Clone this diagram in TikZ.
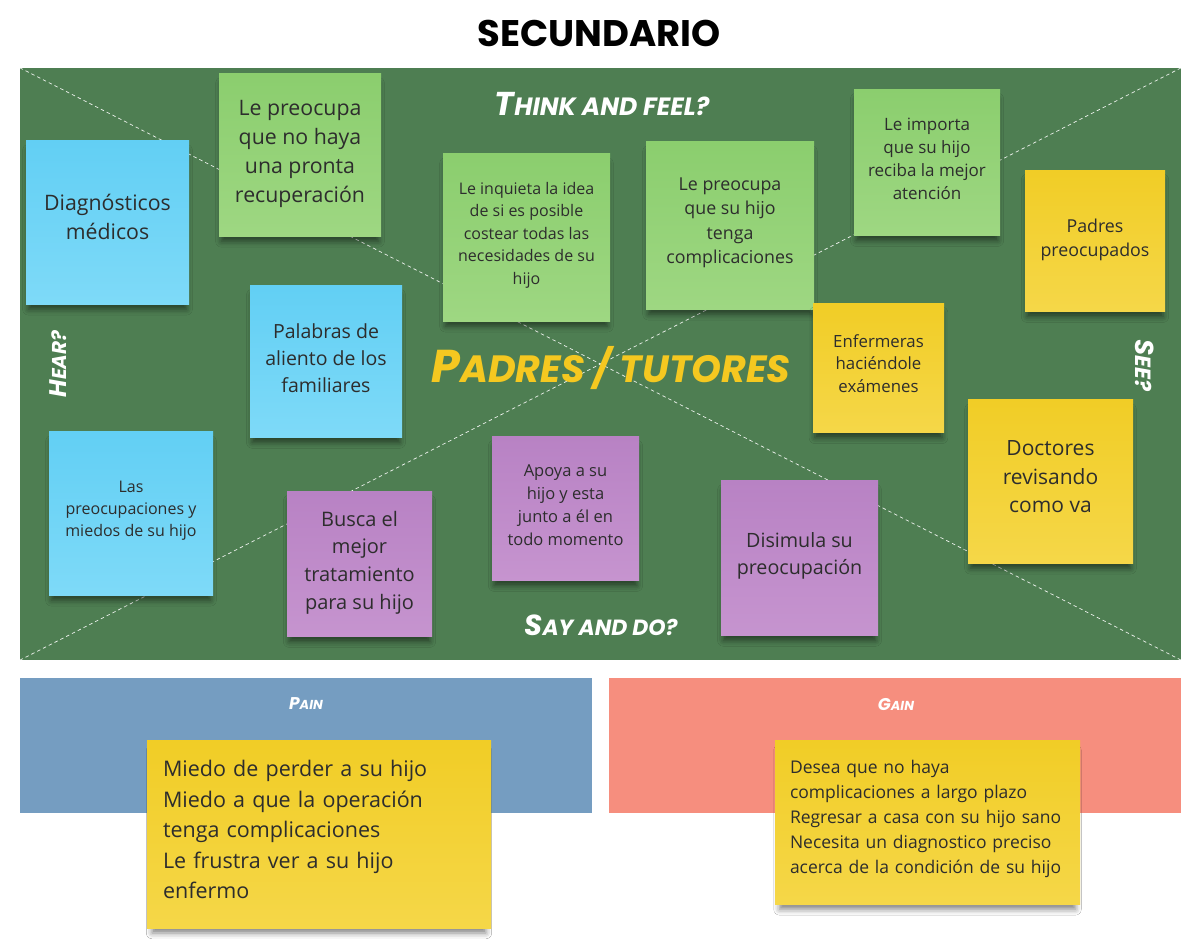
\documentclass[tikz,border=0pt]{standalone}
\usepackage{fontspec}
\setmainfont{Open Sans}
\newfontfamily\headfont{Poppins}
\newfontfamily\titlefont{Poppins}
\usetikzlibrary{shadows.blur}

\definecolor{board}{RGB}{78,126,82}
\definecolor{ink}{RGB}{45,45,45}
\definecolor{greenA}{RGB}{139,206,110}
\definecolor{greenB}{RGB}{158,215,130}
\definecolor{blueA}{RGB}{98,207,244}
\definecolor{blueB}{RGB}{126,218,248}
\definecolor{yellowA}{RGB}{241,205,38}
\definecolor{yellowB}{RGB}{245,215,72}
\definecolor{purpleA}{RGB}{184,130,196}
\definecolor{purpleB}{RGB}{198,148,207}
\definecolor{painbox}{RGB}{117,157,193}
\definecolor{gainbox}{RGB}{246,142,126}
\definecolor{persona}{RGB}{245,200,32}

% fake small caps for the hand-lettered headings
\newcommand{\hcaps}[4]{{\fontsize{#1}{#1}\selectfont #3}{\fontsize{#2}{#2}\selectfont\MakeUppercase{#4}}}

\tikzset{
  note/.style={inner sep=0pt,
    blur shadow={shadow xshift=0pt, shadow yshift=-8pt, shadow scale=0.97,
      shadow blur radius=6pt, shadow opacity=50}},
  gnote/.style={note, top color=greenA, bottom color=greenB},
  bnote/.style={note, top color=blueA, bottom color=blueB},
  ynote/.style={note, top color=yellowA, bottom color=yellowB},
  pnote/.style={note, top color=purpleA, bottom color=purpleB},
  ntext/.style={align=center, text=ink, inner sep=0pt},
  up/.style={yshift=#1},
  head/.style={text=white, font=\headfont\bfseries\itshape, inner sep=0pt},
  fs/.style 2 args={font=\fontsize{#1}{#2}\selectfont},
  divider/.style={draw=white, dash pattern=on 3.5pt off 3pt, line width=0.7pt, opacity=0.9},
}

\begin{document}
\begin{tikzpicture}[x=1pt, y=-1pt]
\useasboundingbox[fill=white] (0,0) rectangle (1204,951);

% title
\node[font=\titlefont\bfseries\fontsize{37}{37}\selectfont, text=black] (title) at (599,33) {SECUNDARIO};

% empathy board
\node[fill=board, minimum width=1161pt, minimum height=592pt, inner sep=0pt] (board) at (600.5,364) {};
\draw[divider] (board.north west) -- (board.south east);
\draw[divider] (board.south west) -- (board.north east);

% quadrant headings
\node[head] (think) at (602,104) {\hcaps{33}{25}{T}{hink and feel?}};
\node[head] (say) at (601,625) {\hcaps{29}{22}{S}{ay and do?}};
\node[head, rotate=90] (hear) at (58,364) {\hcaps{24}{20}{H}{ear?}};
\node[head, rotate=-90] (see) at (1145,365) {\hcaps{26}{22}{S}{ee?}};

% think and feel
\node[gnote, minimum width=162pt, minimum height=163pt,
  label={[ntext, fs={21.3}{29}, up=1pt]center:{Le preocupa\\que no haya\\una pronta\\recuperación}}] (n1) at (300,154.5) {};
\node[gnote, minimum width=167pt, minimum height=168pt,
  label={[ntext, fs={16}{22.5}, up=2pt]center:{Le inquieta la idea\\de si es posible\\costear todas las\\necesidades de su\\hijo}}] (n3) at (526.5,237) {};
\node[gnote, minimum width=168pt, minimum height=168pt,
  label={[ntext, fs={17.8}{24.5}, up=2pt]center:{Le preocupa\\que su hijo\\tenga\\complicaciones}}] (n4) at (730,225) {};
\node[gnote, minimum width=146pt, minimum height=146pt,
  label={[ntext, fs={17}{23}, up=3pt]center:{Le importa\\que su hijo\\reciba la mejor\\atención}}] (n5) at (927,162) {};

% hear
\node[bnote, minimum width=163pt, minimum height=164pt,
  label={[ntext, fs={21.3}{29}, up=5pt]center:{Diagnósticos\\médicos}}] (n2) at (107.5,222) {};
\node[bnote, minimum width=152pt, minimum height=152pt,
  label={[ntext, fs={19.5}{27}, up=3pt]center:{Palabras de\\aliento de los\\familiares}}] (n7) at (326,361) {};
\node[bnote, minimum width=164pt, minimum height=164pt,
  label={[ntext, fs={16}{22}, up=2pt]center:{Las\\preocupaciones y\\miedos de su hijo}}] (n10) at (131,513) {};

% see
\node[ynote, minimum width=140pt, minimum height=141pt,
  label={[ntext, fs={17.8}{24}, up=1pt]center:{Padres\\preocupados}}] (n6) at (1095,240.5) {};
\node[ynote, minimum width=131pt, minimum height=129pt,
  label={[ntext, fs={16.8}{22.5}, up=4pt]center:{Enfermeras\\haciéndole\\exámenes}}] (n8) at (878.5,367.5) {};
\node[ynote, minimum width=165pt, minimum height=164pt,
  label={[ntext, fs={21}{28.5}, up=4pt]center:{Doctores\\revisando\\como va}}] (n9) at (1050.5,481) {};

% say and do
\node[pnote, minimum width=145pt, minimum height=145pt,
  label={[ntext, fs={20}{27.7}, up=1pt]center:{Busca el\\mejor\\tratamiento\\para su hijo}}] (n11) at (359.5,563.5) {};
\node[pnote, minimum width=147pt, minimum height=144pt,
  label={[ntext, fs={16.5}{23}, up=3pt]center:{Apoya a su\\hijo y esta\\junto a él en\\todo momento}}] (n12) at (565.5,508) {};
\node[pnote, minimum width=157pt, minimum height=155pt,
  label={[ntext, fs={19.7}{27}, up=2pt]center:{Disimula su\\preocupación}}] (n13) at (799.5,557.5) {};

% persona
\node[text=persona, font=\headfont\bfseries\itshape, inner sep=0pt] (persona) at (611,368)
  {\hcaps{46}{38}{P}{adres}\hspace{9pt}{\fontsize{38}{38}\selectfont /}\hspace{9pt}\hcaps{38}{38}{}{tutores}};

% pains and gains
\node[fill=painbox, minimum width=572pt, minimum height=135pt, inner sep=0pt] (pain) at (306,745.5) {};
\node[head] (painlbl) at (306,704) {\hcaps{17}{13}{P}{ain}};
\node[ynote, minimum width=344pt, minimum height=188pt,
  label={[ntext, align=left, text width=312pt, fs={21.5}{30.5}, up=4.5pt]center:{Miedo de perder a su hijo\\Miedo a que la operación\\tenga complicaciones\\Le frustra ver a su hijo\\enfermo}}] (painnote) at (319,834) {};

\node[fill=gainbox, minimum width=572pt, minimum height=135pt, inner sep=0pt] (gain) at (895,745.5) {};
\node[head] (gainlbl) at (896,704) {\hcaps{17}{13}{G}{ain}};
\node[ynote, minimum width=305pt, minimum height=164pt,
  label={[ntext, align=left, text width=275pt, fs={17.5}{25}, up=3pt]center:{Desea que no haya\\complicaciones a largo plazo\\Regresar a casa con su hijo sano\\Necesita un diagnostico preciso\\acerca de la condición de su hijo}}] (gainnote) at (927.5,822) {};
\end{tikzpicture}
\end{document}
